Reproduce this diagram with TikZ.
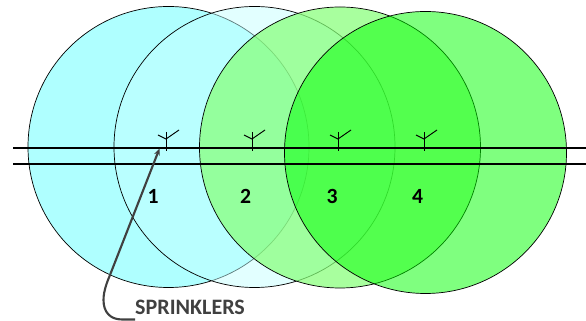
\documentclass[tikz,border=0pt]{standalone}
\usepackage{fontspec}
\setmainfont{Carlito}
\usepackage{xcolor}
\usetikzlibrary{arrows.meta}
\definecolor{zonecyan}{RGB}{110,255,255}
\definecolor{zonepale}{RGB}{195,255,255}
\definecolor{zonelime}{RGB}{134,255,120}
\definecolor{zonegreen}{RGB}{0,255,0}
\definecolor{labelgray}{RGB}{64,64,64}
\tikzset{
  zone/.style={draw=black, line width=0.6pt},
  pipe/.style={line width=1.2pt, black},
  numlabel/.style={font=\fontsize{18.5}{18.5}\selectfont\bfseries, text=black},
  head/.style={line width=0.8pt, black}
}
\begin{document}
\begin{tikzpicture}[x=0.03cm, y=-0.03cm]
  \useasboundingbox (0,0) rectangle (586,321);
  \draw[zone, fill=zonecyan, fill opacity=0.55] (168.5,147) circle (4.215cm);
  \draw[zone, fill=zonepale, fill opacity=0.48] (254.5,147) circle (4.215cm);
  \draw[zone, fill=zonelime, fill opacity=0.72] (340,147.5) circle (4.215cm);
  \draw[zone, fill=zonegreen, fill opacity=0.5] (425.5,152.5) circle (4.23cm);
  \draw[pipe] (13,148) -- (586,148);
  \draw[pipe] (13,164) -- (586,164);
  % sprinkler heads and their numbers
  \foreach \hx/\lx/\num in {166/153/1, 252/245.5/2, 338/332/3, 424/417.5/4} {
    \draw[head] (\hx,132) -- (\hx,151);
    \draw[head] (\hx-8,135) -- (\hx,139) -- (\hx+13,130);
    \node[numlabel] (num\num) at (\lx,196) {\num};
  }
  \node[anchor=west, inner sep=0pt, text=labelgray, font=\fontsize{18.8}{18.8}\selectfont\bfseries] (sprinklers) at (135,307) {SPRINKLERS};
  \coordinate (tail) at (135,319.5);
  \coordinate (tip) at (159.5,148.5);
  \draw[-{Stealth[length=6pt,width=5pt]}, labelgray, line width=1.8pt]
    (tail) -- (122,319.5) .. controls (110,319.5) and (103.5,312) .. (103.5,300)
    .. controls (103.5,290) and (108,280) .. (110,275) -- (tip);
\end{tikzpicture}
\end{document}
